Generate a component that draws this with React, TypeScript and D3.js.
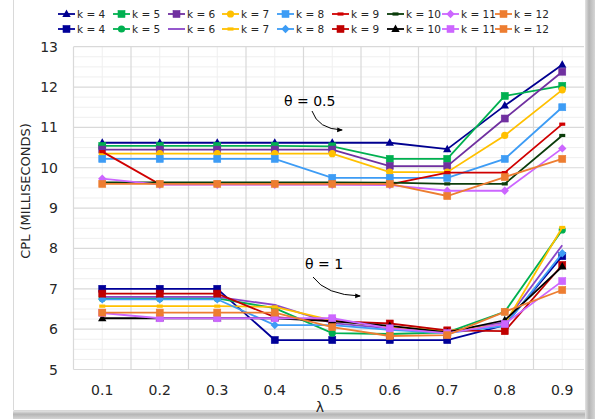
import React from "react";
import * as d3 from "d3";

const lambdas = ["0.1", "0.2", "0.3", "0.4", "0.5", "0.6", "0.7", "0.8", "0.9"];
const yTicks = [5, 6, 7, 8, 9, 10, 11, 12, 13];
const kLabels = ["k = 4", "k = 5", "k = 6", "k = 7", "k = 8", "k = 9", "k = 10", "k = 11", "k = 12"];

// theta = 0.5 (upper group)
const t05_k4 = [10.62, 10.62, 10.62, 10.62, 10.62, 10.62, 10.46, 11.54, 12.55];
const t05_k5 = [10.54, 10.54, 10.54, 10.54, 10.53, 10.22, 10.22, 11.78, 12.03];
const t05_k6 = [10.45, 10.45, 10.45, 10.45, 10.45, 10.04, 10.04, 11.22, 12.38];
const t05_k7 = [10.35, 10.35, 10.35, 10.35, 10.35, 9.89, 9.89, 10.8, 11.93];
const t05_k8 = [10.22, 10.22, 10.22, 10.22, 9.75, 9.75, 9.75, 10.22, 11.5];
const t05_k9 = [10.4, 9.59, 9.59, 9.59, 9.59, 9.59, 9.88, 9.88, 11.08];
const t05_k10 = [9.64, 9.64, 9.64, 9.64, 9.64, 9.63, 9.6, 9.6, 10.8];
const t05_k11 = [9.73, 9.58, 9.58, 9.58, 9.58, 9.57, 9.43, 9.43, 10.48];
const t05_k12 = [9.6, 9.6, 9.6, 9.6, 9.6, 9.6, 9.3, 9.77, 10.22];

// theta = 1 (lower group)
const t1_k4 = [7.0, 7.0, 7.0, 5.73, 5.73, 5.73, 5.73, 6.1, 7.81];
const t1_k5 = [6.76, 6.76, 6.76, 6.52, 5.9, 5.88, 5.92, 6.43, 8.46];
const t1_k6 = [6.8, 6.8, 6.8, 6.6, 6.15, 6.02, 5.93, 6.17, 8.08];
const t1_k7 = [6.57, 6.57, 6.57, 6.55, 6.22, 6.06, 5.95, 6.12, 8.52];
const t1_k8 = [6.74, 6.74, 6.74, 6.1, 6.1, 5.98, 5.9, 6.08, 7.88];
const t1_k9 = [6.88, 6.88, 6.88, 6.3, 6.2, 6.14, 5.97, 5.95, 7.59];
const t1_k10 = [6.27, 6.27, 6.27, 6.27, 6.2, 6.08, 5.92, 6.22, 7.55];
const t1_k11 = [6.4, 6.27, 6.27, 6.27, 6.27, 6.02, 5.9, 6.13, 7.19];
const t1_k12 = [6.41, 6.41, 6.41, 6.41, 6.05, 5.83, 5.85, 6.43, 6.97];

type Marker = "triangle" | "square" | "circle" | "diamond" | "dash" | "none";
interface Series { label: string; values: number[]; color: string; marker: Marker; }

const upper: Series[] = [
  { label: kLabels[0], values: t05_k4, color: "#000090", marker: "triangle" },
  { label: kLabels[1], values: t05_k5, color: "#00B050", marker: "square" },
  { label: kLabels[2], values: t05_k6, color: "#7030A0", marker: "square" },
  { label: kLabels[3], values: t05_k7, color: "#FFC000", marker: "circle" },
  { label: kLabels[4], values: t05_k8, color: "#3D9CF5", marker: "square" },
  { label: kLabels[5], values: t05_k9, color: "#D00000", marker: "dash" },
  { label: kLabels[6], values: t05_k10, color: "#0B3D0B", marker: "dash" },
  { label: kLabels[7], values: t05_k11, color: "#CC66FF", marker: "diamond" },
  { label: kLabels[8], values: t05_k12, color: "#ED7D31", marker: "square" },
];
const lower: Series[] = [
  { label: kLabels[0], values: t1_k4, color: "#000099", marker: "square" },
  { label: kLabels[1], values: t1_k5, color: "#00B050", marker: "circle" },
  { label: kLabels[2], values: t1_k6, color: "#8A46C8", marker: "none" },
  { label: kLabels[3], values: t1_k7, color: "#FFC000", marker: "dash" },
  { label: kLabels[4], values: t1_k8, color: "#3D9CF5", marker: "diamond" },
  { label: kLabels[5], values: t1_k9, color: "#C00000", marker: "square" },
  { label: kLabels[6], values: t1_k10, color: "#000000", marker: "triangle" },
  { label: kLabels[7], values: t1_k11, color: "#CC66FF", marker: "square" },
  { label: kLabels[8], values: t1_k12, color: "#ED7D31", marker: "square" },
];

const FONT = "'DejaVu Sans', Verdana, sans-serif";

function MarkerShape({ type, x, y, color }: { type: Marker; x: number; y: number; color: string }) {
  switch (type) {
    case "square":
      return <rect x={x - 3.5} y={y - 3.5} width={7} height={7} fill={color} stroke={color} strokeWidth={0.6} />;
    case "circle":
      return <circle cx={x} cy={y} r={3.6} fill={color} />;
    case "triangle":
      return <path d={`M${x},${y - 4.5}L${x + 4.2},${y + 3}L${x - 4.2},${y + 3}Z`} fill={color} />;
    case "diamond":
      return <path d={`M${x},${y - 4.2}L${x + 4.2},${y}L${x},${y + 4.2}L${x - 4.2},${y}Z`} fill={color} />;
    case "dash":
      return <rect x={x - 3} y={y - 1.6} width={6} height={3.2} fill={color} />;
    default:
      return null;
  }
}

export default function App() {
  const W = 595, H = 419;
  const plotLeft = 73.5, plotRight = 584, plotTop = 46.7, plotBottom = 369.5;
  const x = d3.scaleBand<string>().domain(lambdas).range([plotLeft, 591]).padding(0);
  const cx = (l: string) => (x(l) as number) + x.bandwidth() / 2;
  const y = d3.scaleLinear().domain([5, 13]).range([plotBottom, plotTop]);
  const line = d3.line<number>().x((_, i) => cx(lambdas[i])).y((v) => y(v));

  const minorY = d3.range(5, 13.001, 0.25).filter((v) => Math.abs(v - Math.round(v)) > 0.01);
  const bandEdges = lambdas.slice(1).map((l) => x(l) as number).filter((v) => v < plotRight);

  const legendX = [58, 113, 168, 222, 277, 332, 387, 442, 495];

  const renderSeries = (s: Series, key: string) => (
    <g key={key}>
      <path d={line(s.values) || ""} fill="none" stroke={s.color} strokeWidth={1.8} />
      {s.values.map((v, i) => (
        <MarkerShape key={i} type={s.marker} x={cx(lambdas[i])} y={y(v)} color={s.color} />
      ))}
    </g>
  );

  const renderLegendRow = (series: Series[], yy: number, key: string) => (
    <g key={key}>
      {series.map((s, i) => (
        <g key={i}>
          <line x1={legendX[i]} x2={legendX[i] + 17} y1={yy} y2={yy} stroke={s.color} strokeWidth={1.8} />
          <MarkerShape type={s.marker} x={legendX[i] + 8.5} y={yy} color={s.color} />
          <text x={legendX[i] + 19} y={yy + 3.6} fontSize={10.5} fontFamily={FONT} fill="#262626">{s.label}</text>
        </g>
      ))}
    </g>
  );

  return (
    <svg width={W} height={H} style={{ position: "absolute", left: 0, top: 0, background: "#fff" }}>
      <defs>
        <linearGradient id="shR" x1="0" x2="1" y1="0" y2="0">
          <stop offset="0" stopColor="#e3e3e3" />
          <stop offset="0.4" stopColor="#b5b5b5" />
          <stop offset="1" stopColor="#d5d5d5" />
        </linearGradient>
        <linearGradient id="shB" x1="0" x2="0" y1="0" y2="1">
          <stop offset="0" stopColor="#e3e3e3" />
          <stop offset="0.4" stopColor="#b5b5b5" />
          <stop offset="1" stopColor="#d5d5d5" />
        </linearGradient>
        <marker id="arrow" viewBox="0 0 10 10" refX="8" refY="5" markerWidth="6" markerHeight="6" orient="auto">
          <path d="M0,1L10,5L0,9Z" fill="#000" />
        </marker>
      </defs>
      <rect x={0} y={0} width={W} height={H} fill="#fff" />

      {/* gridlines */}
      {minorY.map((v) => (
        <line key={"my" + v} x1={plotLeft} x2={plotRight} y1={y(v)} y2={y(v)} stroke="#efefef" strokeWidth={1} />
      ))}
      {lambdas.map((l) => (
        <line key={"mx" + l} x1={cx(l)} x2={cx(l)} y1={plotTop} y2={plotBottom} stroke="#efefef" strokeWidth={1} />
      ))}
      {yTicks.map((v) => (
        <line key={"gy" + v} x1={plotLeft} x2={plotRight} y1={y(v)} y2={y(v)} stroke="#d9d9d9" strokeWidth={1.2} />
      ))}
      {bandEdges.map((v, i) => (
        <line key={"gx" + i} x1={v} x2={v} y1={plotTop} y2={plotBottom} stroke="#d9d9d9" strokeWidth={1.2} />
      ))}
      <line x1={plotLeft} x2={plotLeft} y1={plotTop} y2={plotBottom} stroke="#d9d9d9" strokeWidth={1.2} />

      {/* series */}
      {upper.map((s, i) => renderSeries(s, "u" + i))}
      {lower.map((s, i) => renderSeries(s, "l" + i))}

      {/* annotations */}
      <text x={284} y={106} fontSize={14} fontFamily={FONT} fill="#000">θ = 0.5</text>
      <path d="M312,111 Q318,129 342,130" fill="none" stroke="#000" strokeWidth={1} markerEnd="url(#arrow)" />
      <text x={305} y={269} fontSize={14} fontFamily={FONT} fill="#000">θ = 1</text>
      <path d="M313,277 Q326,295 360,296" fill="none" stroke="#000" strokeWidth={1} markerEnd="url(#arrow)" />

      {/* axes labels */}
      {yTicks.map((v) => (
        <text key={"yt" + v} x={58} y={y(v) + 5} textAnchor="end" fontSize={14} fontFamily={FONT} fill="#262626">{v}</text>
      ))}
      {lambdas.map((l) => (
        <text key={"xt" + l} x={cx(l)} y={395} textAnchor="middle" fontSize={14} fontFamily={FONT} fill="#262626">{l}</text>
      ))}
      <text transform="translate(30,191) rotate(-90)" textAnchor="middle" fontSize={13} fontFamily={FONT} fill="#262626">CPL (MILLISECONDS)</text>

      {/* legend */}
      {renderLegendRow(upper, 14, "lr1")}
      {renderLegendRow(lower, 29, "lr2")}

      {/* frame */}
      <line x1={13.5} x2={13.5} y1={0} y2={410} stroke="#d9d9d9" strokeWidth={1} />
      <line x1={13.5} x2={585} y1={410.5} y2={410.5} stroke="#d9d9d9" strokeWidth={1} />
      <rect x={585} y={0} width={10} height={419} fill="url(#shR)" />
      <rect x={13} y={411} width={572} height={8} fill="url(#shB)" />

      <text x={320} y={412} textAnchor="middle" fontSize={14} fontFamily={FONT} fill="#262626">λ</text>
    </svg>
  );
}
